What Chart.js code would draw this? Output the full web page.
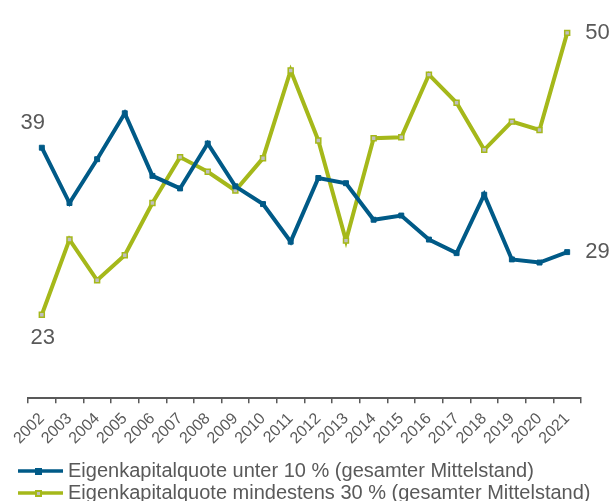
<!doctype html>
<html>
<head>
<meta charset="utf-8">
<script src="https://cdn.jsdelivr.net/npm/chart.js@4"></script>
<style>
  html, body { margin: 0; padding: 0; background: #fff; }
  #wrap { width: 611px; height: 501px; }
</style>
</head>
<body>
<div id="wrap"><canvas id="ekq-chart"></canvas></div>
<script>
// years on the x axis
const years = ['2002','2003','2004','2005','2006','2007','2008','2009','2010','2011',
               '2012','2013','2014','2015','2016','2017','2018','2019','2020','2021'];
// Eigenkapitalquote unter 10 %
const unter10 = [39.0, 33.7, 37.9, 42.3, 36.3, 35.1, 39.4, 35.3, 33.6, 30.0,
                 36.1, 35.6, 32.1, 32.5, 30.2, 28.9, 34.5, 28.3, 28.0, 29.0];
// Eigenkapitalquote mindestens 30 %
const mind30 = [23.0, 30.2, 26.3, 28.7, 33.7, 38.1, 36.7, 34.9, 38.0, 46.4,
                39.7, 30.1, 39.9, 40.0, 46.0, 43.3, 38.8, 41.5, 40.7, 50.0];
const seriesNames = ['Eigenkapitalquote unter 10 % (gesamter Mittelstand)',
                     'Eigenkapitalquote mindestens 30 % (gesamter Mittelstand)'];

const BLUE = '#005a87';
const GREEN = '#a5b81a';
const GREY = '#595959';
const FONT = "'Liberation Sans', Arial, sans-serif";

// little line+marker picture for the legend
function legendIcon(lineColor, fill) {
  const c = document.createElement('canvas');
  c.width = 48; c.height = 8;
  const g = c.getContext('2d');
  g.strokeStyle = lineColor; g.lineWidth = 3.5;
  g.beginPath(); g.moveTo(0, 4); g.lineTo(48, 4); g.stroke();
  g.fillStyle = lineColor; g.fillRect(20, 1, 7, 7);
  g.fillStyle = fill; g.fillRect(22, 3, 3, 3);
  return c;
}

// first / last value labels
const endLabels = {
  id: 'endLabels',
  afterDatasetsDraw(chart) {
    const ctx = chart.ctx;
    ctx.save();
    ctx.font = '22px ' + FONT;
    ctx.fillStyle = GREY;
    ctx.textBaseline = 'middle';
    const spots = [
      { ds: 0, i: 0, dx: -9, dy: -25, align: 'center' },
      { ds: 1, i: 0, dx: 1, dy: 23, align: 'center' },
      { ds: 0, i: years.length - 1, dx: 18, dy: 0, align: 'left' },
      { ds: 1, i: years.length - 1, dx: 18, dy: 0, align: 'left' }
    ];
    spots.forEach(s => {
      const pt = chart.getDatasetMeta(s.ds).data[s.i];
      const v = chart.data.datasets[s.ds].data[s.i];
      ctx.textAlign = s.align;
      ctx.fillText(String(Math.round(v)), pt.x + s.dx, pt.y + s.dy);
    });
    ctx.restore();
  }
};

const ctx = document.getElementById('ekq-chart').getContext('2d');
new Chart(ctx, {
  type: 'line',
  data: {
    labels: years,
    datasets: [{
      label: seriesNames[0],
      data: unter10,
      borderColor: BLUE,
      borderWidth: 4,
      backgroundColor: BLUE,
      pointStyle: 'rect',
      pointRadius: 3.5,
      pointBorderWidth: 1,
      pointBorderColor: BLUE,
      pointBackgroundColor: BLUE,
      tension: 0
    }, {
      label: seriesNames[1],
      data: mind30,
      borderColor: GREEN,
      borderWidth: 4,
      backgroundColor: GREEN,
      pointStyle: 'rect',
      pointRadius: 3.5,
      pointBorderWidth: 1.5,
      pointBorderColor: GREEN,
      pointBackgroundColor: '#bfbfbf',
      tension: 0
    }]
  },
  options: {
    responsive: true,
    maintainAspectRatio: false,
    animation: false,
    layout: { padding: { left: 18, right: 0, top: 12, bottom: -12 } },
    scales: {
      x: {
        offset: true,
        grid: { offset: true, drawOnChartArea: false, drawTicks: true, tickLength: 5, color: GREY, lineWidth: 1.5 },
        border: { display: true, color: GREY, width: 2 },
        ticks: { color: GREY, font: { family: FONT, size: 16 }, minRotation: 45, maxRotation: 45, padding: 6, autoSkip: false },
        afterFit(scale) { scale.height += 5; }
      },
      y: {
        min: 15, max: 52,
        grid: { display: false },
        border: { display: false },
        ticks: { display: false },
        afterFit(scale) { scale.width = 10; }
      },
      yRight: {
        position: 'right',
        min: 15, max: 52,
        grid: { display: false },
        border: { display: false },
        ticks: { display: false },
        afterFit(scale) { scale.width = 30; }
      }
    },
    plugins: {
      tooltip: { enabled: false },
      legend: {
        position: 'bottom',
        align: 'start',
        labels: {
          usePointStyle: true,
          pointStyleWidth: 38,
          color: GREY,
          font: { family: FONT, size: 20 },
          padding: 2,
          generateLabels(chart) {
            return chart.data.datasets.map((d, i) => ({
              text: d.label,
              pointStyle: legendIcon(d.borderColor, d.pointBackgroundColor),
              fontColor: GREY,
              lineWidth: 0,
              datasetIndex: i
            }));
          }
        }
      }
    }
  },
  plugins: [endLabels]
});
</script>
</body>
</html>
